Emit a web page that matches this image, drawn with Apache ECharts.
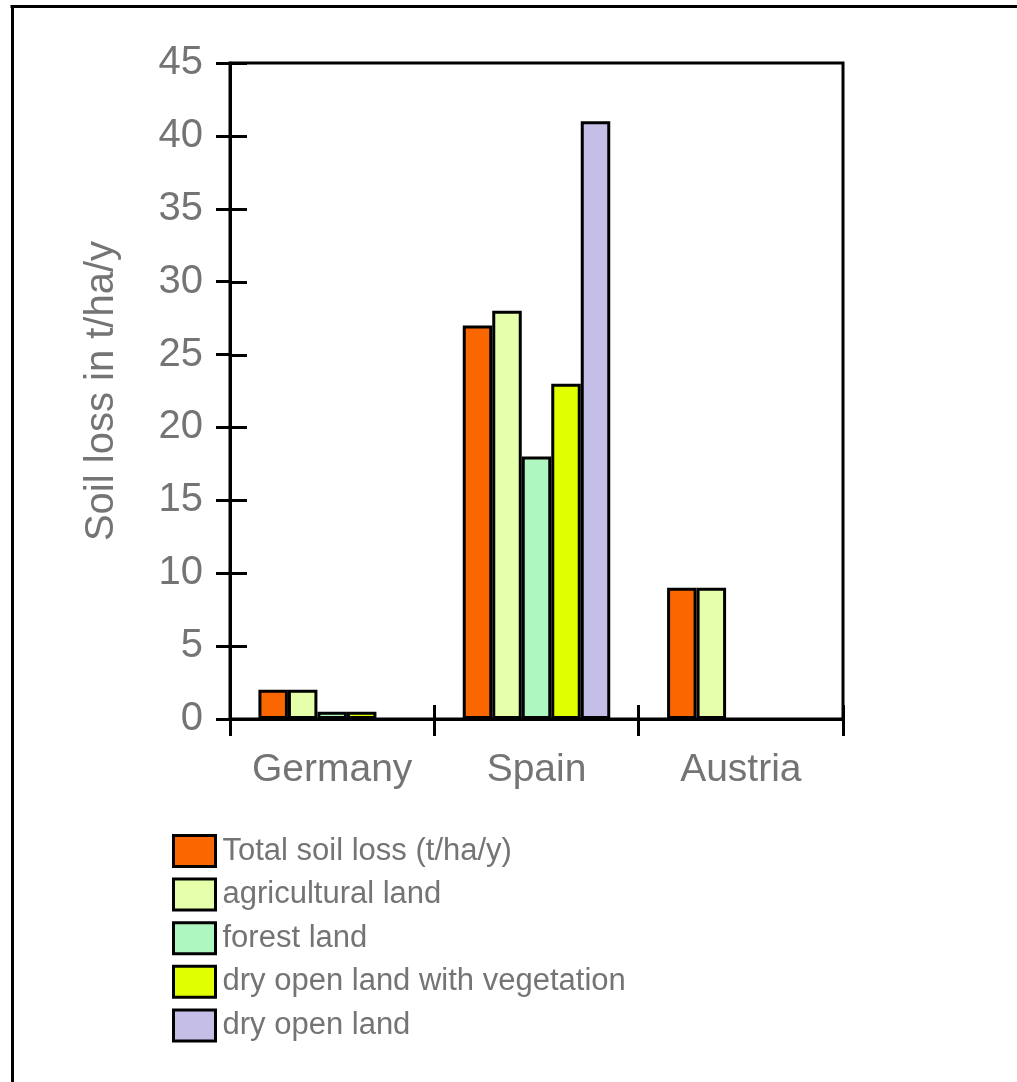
<!DOCTYPE html>
<html>
<head>
<meta charset="utf-8">
<style>
html,body{margin:0;padding:0;background:#fff;}
#chart{width:1017px;height:1082px;}
</style>
<script src="https://cdn.jsdelivr.net/npm/echarts@6/dist/echarts.min.js"></script>
</head>
<body>
<div id="chart"></div>
<script>
const categories = ['Germany', 'Spain', 'Austria'];
const seriesNames = ['Total soil loss (t/ha/y)', 'agricultural land', 'forest land', 'dry open land with vegetation', 'dry open land'];
const totalSoilLoss = [2, 27, 9];
const agriculturalLand = [2, 28, 9];
const forestLand = [0.5, 18, null];
const dryOpenVeg = [0.5, 23, null];
const dryOpenLand = [null, 41, null];
const colors = ['#FA6600', '#E6FFAA', '#AFF7C1', '#E0FF00', '#C5BEE6'];
const yTicks = [0, 5, 10, 15, 20, 25, 30, 35, 40, 45];

const seriesData = [totalSoilLoss, agriculturalLand, forestLand, dryOpenVeg, dryOpenLand];
const chart = echarts.init(document.getElementById('chart'), null, {renderer: 'canvas'});
const font = 'Liberation Sans, Arial, sans-serif';
const labelColor = '#747474';
const gridLeft = 230;

const series = seriesNames.map((name, i) => ({
  name, type: 'bar', data: seriesData[i],
  xAxisIndex: 0, yAxisIndex: 0,
  barWidth: 29.5, barGap: '0%',
  itemStyle: {color: colors[i], borderColor: '#000', borderWidth: 3}
}));

const frame = [
  {type: 'line', shape: {x1: 10.5, y1: 6.5, x2: 1017, y2: 6.5}, style: {stroke: '#000', lineWidth: 3}},
  {type: 'line', shape: {x1: 12.5, y1: 5, x2: 12.5, y2: 1082}, style: {stroke: '#000', lineWidth: 3}}
];

const option = {
  animation: false,
  backgroundColor: '#fff',
  graphic: frame,
  grid: {left: gridLeft, top: 63, right: 174, bottom: 363, show: true, borderColor: '#000', borderWidth: 3, backgroundColor: 'transparent'},
  legend: {
    orient: 'vertical', left: 167, top: 829,
    itemWidth: 42, itemHeight: 31, itemGap: 9.6,
    icon: 'rect',
    itemStyle: {borderColor: '#000', borderWidth: 3},
    textStyle: {fontFamily: font, fontSize: 31, color: labelColor, padding: [0, 0, 0, 2]},
    data: seriesNames
  },
  xAxis: [
    {
      type: 'category', data: categories,
      axisLine: {show: true, lineStyle: {color: '#000', width: 3}},
      axisTick: {show: true, inside: false, length: 17, lineStyle: {color: '#000', width: 3}},
      axisLabel: {fontFamily: font, fontSize: 39, color: labelColor, margin: 32, interval: 0}
    },
    {
      type: 'category', data: categories, position: 'bottom',
      axisLine: {show: false},
      axisTick: {show: true, inside: true, length: 14, lineStyle: {color: '#000', width: 3}},
      axisLabel: {show: false}
    }
  ],
  yAxis: {
    type: 'value', min: 0, max: 45, interval: 5,
    name: 'Soil loss in t/ha/y', nameLocation: 'middle', nameGap: 108,
    nameTextStyle: {fontFamily: font, fontSize: 40, color: labelColor},
    axisLine: {show: true, lineStyle: {color: '#000', width: 3}},
    axisTick: {show: true, inside: false, length: 14, lineStyle: {color: '#000', width: 3}},
    axisLabel: {fontFamily: font, fontSize: 40, color: labelColor, margin: 27,
      formatter: v => yTicks.includes(v) ? String(v) : ''},
    splitLine: {show: false}
  },
  series
};
chart.setOption(option);

// inner half of the crossing y ticks, positioned with the axis's own scale
const innerTicks = yTicks.map(v => {
  const y = Math.round(chart.convertToPixel({yAxisIndex: 0}, v)) + 0.5;
  return {type: 'line', z: 10, shape: {x1: gridLeft, y1: y, x2: gridLeft + 17, y2: y}, style: {stroke: '#000', lineWidth: 3}};
});
chart.setOption({graphic: frame.concat(innerTicks)});
</script>
</body>
</html>
